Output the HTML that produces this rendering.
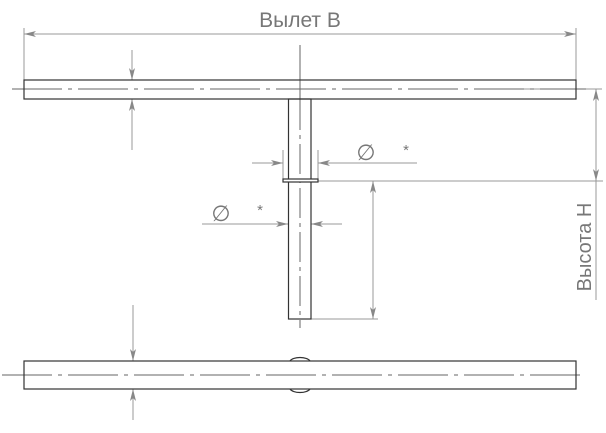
<!DOCTYPE html>
<html><head><meta charset="utf-8"><style>
html,body{margin:0;padding:0;background:#fff;}
svg{display:block;}
text{font-family:"Liberation Sans",sans-serif;fill:#777;}
</style></head><body>
<svg width="606" height="433" viewBox="0 0 606 433" xmlns="http://www.w3.org/2000/svg">
<defs>
<marker id="a" viewBox="0 0 12 6" refX="12" refY="3" markerWidth="12" markerHeight="6" orient="auto-start-reverse" markerUnits="userSpaceOnUse">
<path d="M0,0 L12,3 L0,6 L3,3 Z" fill="#888"/>
</marker>
</defs>
<g stroke="#999" stroke-width="1" fill="none">
<line x1="24" y1="34" x2="576" y2="34" marker-start="url(#a)" marker-end="url(#a)"/>
<line x1="24" y1="28" x2="24" y2="80"/>
<line x1="576" y1="28" x2="576" y2="80"/>
<line x1="132" y1="50" x2="132" y2="80" marker-end="url(#a)"/>
<line x1="132" y1="150" x2="132" y2="99" marker-end="url(#a)"/>
<line x1="133" y1="305" x2="133" y2="361" marker-end="url(#a)"/>
<line x1="133" y1="420" x2="133" y2="389" marker-end="url(#a)"/>
<line x1="497" y1="89" x2="602" y2="89"/>
<line x1="318" y1="181" x2="603" y2="181"/>
<line x1="596" y1="89" x2="596" y2="181" marker-start="url(#a)" marker-end="url(#a)"/>
<line x1="596" y1="181" x2="596" y2="300"/>
<line x1="311" y1="319" x2="378" y2="319"/>
<line x1="373" y1="181" x2="373" y2="319" marker-start="url(#a)" marker-end="url(#a)"/>
<line x1="283" y1="150" x2="283" y2="180"/>
<line x1="318" y1="150" x2="318" y2="180"/>
<line x1="252" y1="163" x2="283" y2="163" marker-end="url(#a)"/>
<line x1="417" y1="163" x2="318" y2="163" marker-end="url(#a)"/>
<line x1="202" y1="224" x2="288" y2="224" marker-end="url(#a)"/>
<line x1="342" y1="224" x2="311" y2="224" marker-end="url(#a)"/>
</g>
<g stroke="#666" stroke-width="1" fill="none" stroke-dasharray="50,6,4,6">
<line x1="12" y1="89" x2="586" y2="89"/>
<line x1="2" y1="375" x2="586" y2="375"/>
</g>
<line x1="300" y1="45" x2="300" y2="100" stroke="#666"/>
<line x1="300" y1="100" x2="300" y2="328" stroke="#666" stroke-dasharray="30,5,4,5"/>
<g stroke="#333" stroke-width="1.2" fill="none">
<rect x="24" y="80" width="552" height="19"/>
<rect x="288.5" y="99" width="22.5" height="220"/>
<rect x="283" y="179" width="35" height="3" fill="#fff"/>
<rect x="24" y="361" width="552" height="28"/>
<path d="M290,361 A10.5,5 0 0 1 310,361"/>
<path d="M290,389 A10.5,5 0 0 0 310,389"/>
</g>
<text x="300" y="27" font-size="21" text-anchor="middle">Вылет В</text>
<text x="0" y="0" font-size="20" text-anchor="middle" transform="translate(591,247) rotate(-90)">Высота Н</text>
<text x="366" y="160" font-size="22" text-anchor="middle">∅</text>
<text x="406" y="155" font-size="15" text-anchor="middle">*</text>
<text x="221" y="221" font-size="22" text-anchor="middle">∅</text>
<text x="260" y="215" font-size="15" text-anchor="middle">*</text>
</svg>
</body></html>
